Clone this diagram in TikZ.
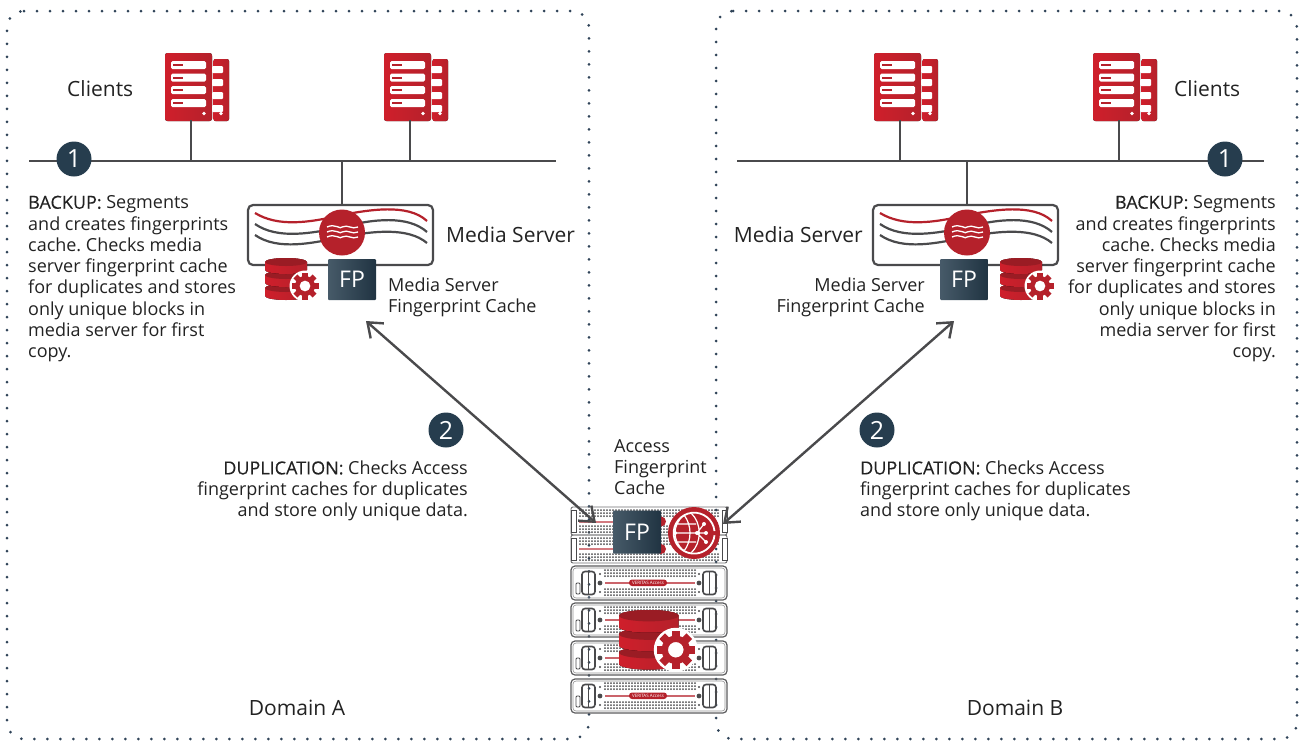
\documentclass[tikz,border=0pt]{standalone}
\usepackage{fontspec}
\setmainfont{Open Sans}
\newfontfamily\medf[FakeBold=0.3]{Open Sans}
\usetikzlibrary{arrows.meta,calc}
\definecolor{vred}{HTML}{B5212B}
\definecolor{vredb}{HTML}{CF1F2B}
\definecolor{vdark}{HTML}{4A4A4C}
\definecolor{vnavy}{HTML}{263D4E}
\definecolor{vdot}{HTML}{2F4358}
\definecolor{txt}{HTML}{222222}
\tikzset{
 x=1pt,y=-1pt,
 domainbox/.style={draw=vdot,line width=3pt,line cap=round,dash pattern=on 0pt off 13pt,rounded corners=17pt},
 bus/.style={draw=vdark,line width=2.4pt},
 arrowl/.style={draw=vdark,line width=2.4pt,{Straight Barb[length=13pt,width=20pt,line width=2.4pt]}-{Straight Barb[length=13pt,width=20pt,line width=2.4pt]}},
 body/.style={font=\fontsize{18}{21.3}\selectfont\frenchspacing,text=txt,inner sep=0pt,align=left},
 bodyr/.style={body,align=right},
 big/.style={font=\fontsize{21}{24}\selectfont,text=txt,inner sep=0pt},
 num/.style={circle,fill=vnavy,minimum size=35pt,inner sep=0pt,text=white,font=\fontsize{25}{25}\selectfont},
 fp/.style={rounded corners=1pt,left color=vnavy!85!white,right color=vnavy!85!black,text=white,inner sep=0pt,font=\fontsize{23}{23}\selectfont,minimum width=48pt,minimum height=41pt},
}
\newcommand{\clientpic}[1]{%
 \begin{scope}[shift={#1}]
  \fill[left color=vredb,right color=vred,rounded corners=2.5pt] (0,0) rectangle (47,68);
  \fill[left color=vredb,right color=vred,rounded corners=2pt] (48.5,6) rectangle (64,68);
  \foreach \yy in {8,20.5,33,46}{
   \fill[white,rounded corners=1.5pt] (6,\yy) rectangle (41,\yy+8);
   \fill[vred] (8,\yy+3) rectangle (18,\yy+5);
  }
  \foreach \yy in {13,26,39,52}{\fill[white,rounded corners=1pt] (47,\yy) rectangle (58,\yy+7);}
  \fill[white] (39,60.5) circle (1.8);
  \fill[white] (56,60.5) circle (1.8);
 \end{scope}}
\newcommand{\dbgear}[2]{%
 \begin{scope}[shift={#1},scale=#2]
  \foreach \yy in {26,13,0}{
   \fill[left color=vredb,right color=vred] (0,\yy+4) -- (0,\yy+12) arc[start angle=180,end angle=0,x radius=21,y radius=4] -- (42,\yy+4) arc[start angle=0,end angle=-180,x radius=21,y radius=4] -- cycle;
   \fill[vred!85!black] (21,\yy+4) ellipse[x radius=21,y radius=4];
  }
  \fill[white] (40,28) circle (15.5);
  \foreach \a in {0,45,...,315}{\fill[vred,rotate around={\a:(40,28)}] (37.2,14.5) rectangle (42.8,20);}
  \fill[vred,even odd rule] (40,28) circle (10) (40,28) circle (5.5);
 \end{scope}}
\newcommand{\rackdots}[3]{%
  \foreach \xx in {#1}{\foreach \yy in {#2}{\fill[vdark] (\xx,\yy) circle (#3);}}}
\newcommand{\rackunit}[2]{%
 \begin{scope}[shift={(571,#1)}]
  \draw[vdark!90,line width=1.2pt,rounded corners=4pt] (0,0) rectangle (156,34);
  \draw[vdark!60,line width=.6pt,rounded corners=3pt] (2,2) rectangle (154,32);
  \draw[vdark,line width=1.6pt,rounded corners=3pt] (11,5.5) rectangle (24,28.5);
  \draw[vdark,line width=1.6pt,rounded corners=3pt] (132,5.5) rectangle (145,28.5);
  \draw[vdark,line width=1.3pt] (17.5,5.5)--(17.5,28.5) (138.5,5.5)--(138.5,28.5);
  \draw[vdark,line width=.9pt,rounded corners=1pt] (5,17) rectangle (9,28);
  \fill[vdark] (29,17) circle (2.4) (128,17) circle (2.4);
  \fill[vdark] (29,8) circle (1.1) (29,26) circle (1.1) (128,8) circle (1.1) (128,26) circle (1.1);
  \rackdots{34,37,...,124}{4,7,10,23,26,29}{1}
  \fill[vred!70] (34,16) rectangle (124,17.5);
  #2
 \end{scope}}
\newcommand{\pill}{\fill[vred,rounded corners=3pt] (58,13.5) rectangle (96,20);\node[white,font=\fontsize{4.5}{4.5}\selectfont,inner sep=0pt] (pilltxt) at (77,16.7) {VERITAS Access};}
\begin{document}
\begin{tikzpicture}
\useasboundingbox (0,0) rectangle (1299,740);
% domains
\draw[domainbox] (7,11) -- (589,11) -- (589,739) -- (7,739) -- cycle;
\draw[domainbox] (716,11) -- (1297,11) -- (1297,739) -- (716,739) -- cycle;
% clients
\clientpic{(165,53)}
\clientpic{(384,53)}
\clientpic{(874,53)}
\clientpic{(1093,53)}
\coordinate (busAl) at (29,161); \coordinate (busAr) at (556,161);
\coordinate (busBl) at (737,161); \coordinate (busBr) at (1264,161);
\coordinate (c1) at (191,120); \coordinate (c2) at (410,120);
\coordinate (c3) at (900,120); \coordinate (c4) at (1119,120);
\coordinate (msAt) at (342,205); \coordinate (msBt) at (967,205);
\draw[bus] (busAl) -- (busAr);
\draw[bus] (busBl) -- (busBr);
\draw[bus] (c1) -- (c1|-busAl);
\draw[bus] (c2) -- (c2|-busAl);
\draw[bus] (c3) -- (c3|-busAl);
\draw[bus] (c4) -- (c4|-busAl);
\draw[bus] (msAt) -- (msAt|-busAl);
\draw[bus] (msBt) -- (msBt|-busAl);
% media servers
\foreach \ox/\name in {248/A,873/B}{
 \begin{scope}[shift={(\ox,205)}]
  \draw[draw=vdark,line width=2.2pt,rounded corners=5pt,fill=white] (0,0) rectangle (185,60);
  \draw[vred,line width=2.2pt] (7,8) .. controls (30,22) and (60,18) .. (94,10) .. controls (120,5) and (160,-2) .. (179,16);
  \draw[vdark,line width=2.2pt] (7,19) .. controls (30,35) and (65,28) .. (94,22) .. controls (125,14) and (160,10) .. (179,27);
  \draw[vdark,line width=2.2pt] (7,30) .. controls (30,46) and (65,38) .. (94,32) .. controls (125,26) and (160,22) .. (179,38);
  \fill[vred] (94,27.5) circle (23);
  \foreach \yy in {22,27,32}{\draw[white,line width=1.3pt] (79,\yy) .. controls (87,\yy-4) and (93,\yy+3) .. (94,\yy) .. controls (100,\yy-3) and (104,\yy+3) .. (110,\yy);}
 \end{scope}}
\dbgear{(265,258)}{1}
\dbgear{(1000,258)}{1}
\node[fp] (fpA) at (352,279.5) {FP};
\node[fp] (fpB) at (964,279.5) {FP};
% rack
\rackunit{566}{\pill}
\rackunit{603}{}
\rackunit{641}{}
\rackunit{679}{\pill}
% top two-tier unit
\begin{scope}[shift={(571,507)}]
 \draw[vdark!80,line width=.9pt,rounded corners=2pt] (0,0) rectangle (156,28);
 \draw[vdark!80,line width=.9pt,rounded corners=2pt] (0,28) rectangle (156,56);
 \rackdots{9,12,...,148}{3,6,9,19,22,25,31,34,37,47,50,53}{1}
 \fill[vred!60] (8,13.5) rectangle (90,16);
 \fill[vred!60] (8,40.5) rectangle (90,43);
 \fill[vred] (90,14.5) circle (5);
 \fill[vred] (90,42) circle (5);
 \draw[vdark,line width=.9pt,fill=white] (0,3) rectangle (5,25) (0,31) rectangle (5,53) (151,3) rectangle (156,25) (151,31) rectangle (156,53);
\end{scope}
\dbgear{(619,610)}{1.42}
\node[fp,minimum height=43pt] (fpC) at (637,532) {FP};
% access circle
\begin{scope}[shift={(694,533)}]
 \fill[vred] (0,0) circle (26);
 \begin{scope}
 \clip (0,0) circle (20);
 \draw[white,line width=1.2pt] (-19,0) -- (12,0) (-10,-18) .. controls (-2,-8) and (-2,8) .. (-10,18) (-10,-18) .. controls (-22,-8) and (-22,8) .. (-10,18) (-3,-20) .. controls (8,-10) and (8,10) .. (-3,20) (-18,-9) -- (2,-9) (-18,9) -- (2,9) (3,0) -- (10,-9) (3,0) -- (12,9);
 \fill[white] (-19,0) circle (2) (12,0) circle (2) (10,-9) circle (2) (12,9) circle (2) (3,0) circle (2);
 \end{scope}
 \draw[white,line width=1.8pt] (20.5,-2) arc[start angle=-6,end angle=-354,radius=20.5];
\end{scope}
\coordinate (endA) at (596,523);
\coordinate (tipA) at (366,321);
\coordinate (endB) at (723,524);
\coordinate (tipB) at (954,321);
% arrows
\draw[arrowl] (endA) -- (tipA);
\draw[arrowl] (endB) -- (tipB);
% labels
\node[big,anchor=west] (clA) at (67,89) {Clients};
\node[big,anchor=west] (clB) at (1174,89) {Clients};
\node[big,anchor=west] (msLA) at (446,235) {Media Server};
\node[big,anchor=east] (msLB) at (863,235) {Media Server};
\node[num] (n1A) at (74,159) {1};
\node[num] (n1B) at (1225,159) {1};
\node[num] (n2A) at (446,430) {2};
\node[num] (n2B) at (877,430) {2};
\node[body,anchor=north west] (tA) at (28,195.5) {{\medf BACKUP:} Segments\\and creates fingerprints\\cache. Checks media\\server fingerprint cache\\for duplicates and stores\\only unique blocks in\\media server for first\\copy.};
\node[bodyr,anchor=north east] (tB) at (1276,195.5) {{\medf BACKUP:} Segments\\and creates fingerprints\\cache. Checks media\\server fingerprint cache\\for duplicates and stores\\only unique blocks in\\media server for first\\copy.};
\node[body,anchor=north west] (fA) at (388,277.5) {Media Server\\Fingerprint Cache};
\node[bodyr,anchor=north east] (fB) at (925,277.5) {Media Server\\Fingerprint Cache};
\node[bodyr,anchor=north east] (dA) at (468,460.5) {{\medf DUPLICATION:} Checks Access\\fingerprint caches for duplicates\\and store only unique data.};
\node[body,anchor=north west] (dB) at (860,460.5) {{\medf DUPLICATION:} Checks Access\\fingerprint caches for duplicates\\and store only unique data.};
\node[body,anchor=north west] (ac) at (614,439) {Access\\Fingerprint\\Cache};
\node[big] (da) at (297,708) {Domain A};
\node[big] (db) at (1015,708) {Domain B};
\end{tikzpicture}
\end{document}
